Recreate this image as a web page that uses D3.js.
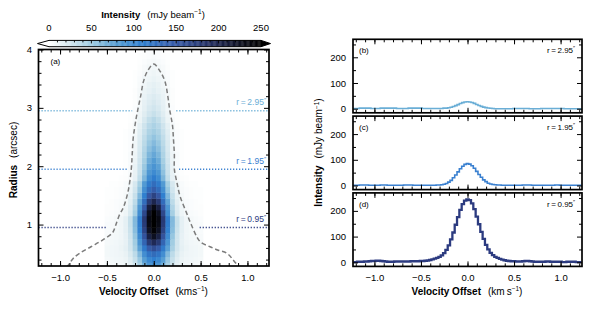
<!DOCTYPE html>
<html>
  <head>
    <meta charset="utf-8">
    <style>
      body,
      html {
        margin: 0;
        padding: 0;
        background: #fff;
        overflow: hidden;
      }
      svg {
        display: block;
      }
      text {
        font-family: "Liberation Sans", Arial, Helvetica, sans-serif;
      }
    </style>
  </head>
  <body>
    <script src="https://cdn.jsdelivr.net/npm/d3@7"></script>
    <script>
      const width = 592;
      const height = 309;

      // ---- data ----
      const velocityDomain = [-1.23, 1.23];
      const radiusDomain = [0.29, 4.0];
      const intensityDomain = [-16, 270];

      const colorbarTicks = [0, 50, 100, 150, 200, 250];
      const radiusTicks = [1, 2, 3, 4];
      const velocityTicks = [-1.0, -0.5, 0.0, 0.5, 1.0];
      const intensityTicks = [0, 100, 200];

      const cmapValues = [0, 10, 25, 50, 80, 110, 150, 190, 230, 250];
      const cmapColors = ["#ffffff", "#eef5f7", "#d3e6ee", "#a0cce2", "#549cd3",
        "#2f7fcf", "#3558a5", "#222d5f", "#0a0c18", "#000000"];

      // heatmap: rows = radius (arcsec), columns = velocity offset (km/s)
      const gridVelocities = [-0.5, -0.45, -0.4, -0.35, -0.3, -0.25, -0.2, -0.15, -0.1, -0.05, 0,
        0.05, 0.1, 0.15, 0.2, 0.25, 0.3, 0.35, 0.4, 0.45, 0.5];
      const gridRadii = [0.3, 0.4, 0.5, 0.6, 0.7, 0.8, 0.9, 1.0, 1.1, 1.2, 1.3, 1.4, 1.5, 1.6,
        1.7, 1.8, 1.9, 2.0, 2.1, 2.2, 2.3, 2.4, 2.5, 2.6, 2.7, 2.8, 2.9, 3.0, 3.1, 3.2, 3.3,
        3.4, 3.5, 3.6, 3.7, 3.8, 3.9, 4.0];
      const gridIntensity = [
        [5, 6, 7, 8, 10, 15, 27, 46, 68, 87, 95, 87, 68, 46, 27, 15, 10, 8, 7, 6, 5],
        [6, 7, 8, 9, 11, 18, 31, 53, 79, 101, 110, 101, 79, 53, 31, 18, 11, 9, 8, 7, 6],
        [7, 8, 9, 10, 13, 21, 36, 62, 94, 120, 130, 120, 94, 62, 36, 21, 13, 10, 9, 8, 7],
        [7, 8, 9, 11, 15, 25, 45, 77, 115, 147, 160, 147, 115, 77, 45, 25, 15, 11, 9, 8, 7],
        [6, 7, 8, 10, 14, 26, 49, 88, 137, 178, 195, 178, 137, 88, 49, 26, 14, 10, 8, 7, 6],
        [5, 6, 7, 9, 14, 27, 54, 99, 155, 205, 225, 205, 155, 99, 54, 27, 14, 9, 7, 6, 5],
        [4, 5, 7, 9, 15, 29, 59, 108, 169, 223, 245, 223, 169, 108, 59, 29, 15, 9, 7, 5, 4],
        [4, 5, 6, 9, 15, 31, 61, 112, 176, 232, 255, 232, 176, 112, 61, 31, 15, 9, 6, 5, 4],
        [3, 4, 6, 9, 15, 31, 62, 114, 178, 235, 258, 235, 178, 114, 62, 31, 15, 9, 6, 4, 3],
        [2, 3, 4, 6, 10, 21, 47, 95, 165, 225, 250, 225, 165, 95, 47, 21, 10, 6, 4, 3, 2],
        [2, 2, 3, 5, 9, 19, 42, 86, 148, 207, 232, 207, 148, 86, 42, 19, 9, 5, 3, 2, 2],
        [1, 2, 3, 4, 7, 16, 36, 74, 128, 178, 200, 178, 128, 74, 36, 16, 7, 4, 3, 2, 1],
        [1, 1, 2, 3, 6, 14, 31, 63, 109, 151, 170, 151, 109, 63, 31, 14, 6, 3, 2, 1, 1],
        [1, 1, 2, 3, 5, 12, 26, 54, 93, 129, 145, 129, 93, 54, 26, 12, 5, 3, 2, 1, 1],
        [0, 1, 1, 2, 4, 10, 23, 47, 82, 114, 128, 114, 82, 47, 23, 10, 4, 2, 1, 1, 0],
        [0, 0, 0, 1, 2, 5, 14, 34, 64, 97, 112, 97, 64, 34, 14, 5, 2, 1, 0, 0, 0],
        [0, 0, 0, 0, 1, 4, 13, 30, 57, 85, 98, 85, 57, 30, 13, 4, 1, 0, 0, 0, 0],
        [0, 0, 0, 0, 1, 4, 12, 28, 52, 77, 88, 77, 52, 28, 12, 4, 1, 0, 0, 0, 0],
        [0, 0, 0, 0, 1, 4, 11, 26, 47, 70, 80, 70, 47, 26, 11, 4, 1, 0, 0, 0, 0],
        [0, 0, 0, 0, 1, 4, 10, 24, 43, 64, 73, 64, 43, 24, 10, 4, 1, 0, 0, 0, 0],
        [0, 0, 0, 0, 1, 3, 9, 22, 40, 58, 67, 58, 40, 22, 9, 3, 1, 0, 0, 0, 0],
        [0, 0, 0, 0, 1, 3, 9, 21, 37, 53, 61, 53, 37, 21, 9, 3, 1, 0, 0, 0, 0],
        [0, 0, 0, 0, 1, 3, 8, 19, 34, 48, 55, 48, 34, 19, 8, 3, 1, 0, 0, 0, 0],
        [0, 0, 0, 0, 1, 3, 7, 17, 30, 43, 49, 43, 30, 17, 7, 3, 1, 0, 0, 0, 0],
        [0, 0, 0, 0, 0, 2, 6, 15, 27, 38, 44, 38, 27, 15, 6, 2, 0, 0, 0, 0, 0],
        [0, 0, 0, 0, 0, 1, 4, 11, 22, 33, 39, 33, 22, 11, 4, 1, 0, 0, 0, 0, 0],
        [0, 0, 0, 0, 0, 1, 3, 10, 18, 26, 31, 26, 18, 10, 3, 1, 0, 0, 0, 0, 0],
        [0, 0, 0, 0, 0, 0, 3, 8, 15, 22, 26, 22, 15, 8, 3, 0, 0, 0, 0, 0, 0],
        [0, 0, 0, 0, 0, 0, 2, 7, 14, 19, 23, 19, 14, 7, 2, 0, 0, 0, 0, 0, 0],
        [0, 0, 0, 0, 0, 0, 2, 6, 12, 17, 20, 17, 12, 6, 2, 0, 0, 0, 0, 0, 0],
        [0, 0, 0, 0, 0, 0, 2, 6, 11, 14, 17, 14, 11, 6, 2, 0, 0, 0, 0, 0, 0],
        [0, 0, 0, 0, 0, 0, 1, 5, 9, 13, 15, 13, 9, 5, 1, 0, 0, 0, 0, 0, 0],
        [0, 0, 0, 0, 0, 0, 1, 4, 8, 10, 12, 10, 8, 4, 1, 0, 0, 0, 0, 0, 0],
        [0, 0, 0, 0, 0, 0, 1, 3, 6, 8, 10, 8, 6, 3, 1, 0, 0, 0, 0, 0, 0],
        [0, 0, 0, 0, 0, 0, 0, 2, 5, 7, 8, 7, 5, 2, 0, 0, 0, 0, 0, 0, 0],
        [0, 0, 0, 0, 0, 0, 0, 1, 3, 5, 6, 5, 3, 1, 0, 0, 0, 0, 0, 0, 0],
        [0, 0, 0, 0, 0, 0, 0, 1, 2, 3, 4, 3, 2, 1, 0, 0, 0, 0, 0, 0, 0],
        [0, 0, 0, 0, 0, 0, 0, 0, 2, 3, 3, 3, 2, 0, 0, 0, 0, 0, 0, 0, 0],
      ];

      // dashed contour, [velocity, radius], left foot -> apex -> right foot
      const contourPoints = [
        [-0.93, 0.27], [-0.9, 0.33], [-0.86, 0.42], [-0.79, 0.51], [-0.67, 0.62],
        [-0.54, 0.74], [-0.44, 0.86], [-0.41, 0.97], [-0.37, 1.15], [-0.32, 1.31],
        [-0.27, 1.6], [-0.24, 1.95], [-0.23, 2.2], [-0.22, 2.47], [-0.19, 2.8],
        [-0.17, 2.97], [-0.14, 3.2], [-0.11, 3.45], [-0.07, 3.62], [0.0, 3.75],
        [0.07, 3.62], [0.12, 3.45], [0.15, 3.2], [0.17, 2.97], [0.2, 2.7],
        [0.21, 2.47], [0.22, 2.2], [0.22, 1.95], [0.25, 1.7], [0.28, 1.49],
        [0.35, 1.2], [0.4, 1.0], [0.46, 0.79], [0.5, 0.7], [0.6, 0.62],
        [0.69, 0.56], [0.78, 0.51], [0.85, 0.39], [0.91, 0.27],
      ];

      const cutRadii = [2.95, 1.95, 0.95];
      const cutLabels = ["2.95", "1.95", "0.95"];
      const cutGapStart = [-0.23, -0.28, -0.51];
      const cutGapEnd = [0.24, 0.27, 0.49];

      const channelStart = -1.225;
      const channelWidth = 0.025;
      const spectrum295 = [
        1, 1, 1, 2, 2, 2, 2, 2, 1, 1,
        1, 1, 2, 2, 2, 2, 2, 2, 2, 1,
        1, 1, 1, 1, 2, 2, 2, 2, 2, 2,
        1, 1, 1, 1, 1, 1, 1, 1, 1, 2,
        2, 3.5, 5.5, 8.5, 12, 16, 20, 23.5, 26,
        27,
        26, 24, 20.5, 16.5, 12.5, 9, 6, 4, 2.5,
        1.5, 1, 0, 0, 0, 0, 0, 0, 0, 0,
        1, 1, 1, 1, 1, 1, 1, 0, 0, 0,
        0, 0, 1, 1, 1, 1, 1, 1, 1, 1,
        1, 1, 0, 0, 0, 0, 0, 0, 0, 0,
      ];
      const spectrum195 = [
        1, 1, 1, 2, 2, 2, 2, 1, 1, 1,
        1, 1, 2, 2, 2, 1, 1, 1, 1, 1,
        1, 1, 2, 2, 2, 2, 1, 1, 1, 1,
        1, 1, 1, 1, 1, 1, 2, 2, 3, 5,
        8, 13, 20, 30, 41, 53, 65, 75, 82,
        85,
        83, 77, 67, 55, 43, 32, 22, 15, 9,
        6, 4, 3, 2, 2, 1, 1, 1, 1, 1,
        1, 1, 1, 1, 2, 2, 2, 2, 1, 1,
        1, 1, 1, 1, 1, 1, 1, 1, 2, 2,
        1, 1, 1, 1, 1, 1, 1, 1, 1, 1,
      ];
      const spectrum095 = [
        1, 1, 2, 2, 2, 3, 3, 4, 5, 5,
        6, 6, 5, 4, 3, 2, 2, 2, 3, 3,
        3, 3, 3, 3, 3, 4, 4, 4, 4, 5,
        5, 6, 7, 9, 11, 14, 17, 21, 27, 36,
        48, 66, 89, 116, 146, 176, 204, 226, 240,
        245,
        242, 229, 207, 178, 148, 118, 91, 68, 50,
        37, 28, 21, 17, 13, 10, 8, 6, 5, 4,
        4, 3, 3, 3, 4, 5, 5, 4, 3, 2,
        2, 2, 2, 2, 3, 3, 2, 2, 2, 2,
        2, 1, 1, 2, 2, 2, 2, 1, 1, 1,
      ];
      const spectra = [spectrum295, spectrum195, spectrum095];
      const panelLetters = ["(b)", "(c)", "(d)"];

      // ---- layout / style ----
      const cutColors = ["#6aaed6", "#3a80d0", "#2c3b80"];
      const font = 9.5;
      const L = { x0: 38.5, x1: 269, y0: 49.5, y1: 266 };
      const R = { x0: 353, x1: 582 };
      const panelTops = [39.3, 116.1, 192.9];
      const panelH = 73.5;
      const MINUS = "\u2212";

      const svg = d3
        .select("body")
        .append("svg")
        .attr("width", width)
        .attr("height", height);

      const color = d3.scaleLinear().domain(cmapValues).range(cmapColors).clamp(true);
      const xL = d3.scaleLinear().domain(velocityDomain).range([L.x0, L.x1]);
      const yL = d3.scaleLinear().domain(radiusDomain).range([L.y1, L.y0]);
      const xR = d3.scaleLinear().domain(velocityDomain).range([R.x0, R.x1]);

      const fmtVel = (d) => (d < 0 ? MINUS : "") + Math.abs(d).toFixed(1);

      function styleAxis(g) {
        g.select(".domain").remove();
        g.selectAll("line").attr("stroke", "#000").attr("stroke-width", 1);
        g.attr("font-family", null).attr("font-size", font);
        g.selectAll("text").attr("fill", "#000");
      }

      // inward ticks on all four sides of a frame
      function frameAxes(x, y, x0, x1, y0, y1, opts) {
        const g = svg.append("g");
        const fmtNone = () => "";
        g.append("g").attr("transform", `translate(0,${y1})`)
          .call(d3.axisBottom(x).tickValues(opts.xMinor).tickSize(-3).tickFormat(fmtNone)).call(styleAxis);
        g.append("g").attr("transform", `translate(0,${y1})`)
          .call(d3.axisBottom(x).tickValues(velocityTicks).tickSize(-5).tickPadding(8)
            .tickFormat(opts.xLabels ? fmtVel : fmtNone)).call(styleAxis);
        g.append("g").attr("transform", `translate(0,${y0})`)
          .call(d3.axisTop(x).tickValues(opts.xMinor).tickSize(-3).tickFormat(fmtNone)).call(styleAxis);
        g.append("g").attr("transform", `translate(0,${y0})`)
          .call(d3.axisTop(x).tickValues(velocityTicks).tickSize(-5).tickFormat(fmtNone)).call(styleAxis);
        g.append("g").attr("transform", `translate(${x0},0)`)
          .call(d3.axisLeft(y).tickValues(opts.yMinor).tickSize(-3).tickFormat(fmtNone)).call(styleAxis);
        g.append("g").attr("transform", `translate(${x0},0)`)
          .call(d3.axisLeft(y).tickValues(opts.yMajor).tickSize(-5).tickPadding(opts.yPad)
            .tickFormat((d) => String(d))).call(styleAxis);
        g.append("g").attr("transform", `translate(${x1},0)`)
          .call(d3.axisRight(y).tickValues(opts.yMinor).tickSize(-3).tickFormat(fmtNone)).call(styleAxis);
        g.append("g").attr("transform", `translate(${x1},0)`)
          .call(d3.axisRight(y).tickValues(opts.yMajor).tickSize(-5).tickFormat(fmtNone)).call(styleAxis);
        svg.append("rect")
          .attr("x", x0).attr("y", y0).attr("width", x1 - x0).attr("height", y1 - y0)
          .attr("fill", "none").attr("stroke", "#000").attr("stroke-width", 1.7);
      }

      const minorV = d3.range(-12, 13).map((d) => d / 10);

      // ---- panel (a): heatmap ----
      svg.append("clipPath").attr("id", "clipA").append("rect")
        .attr("x", L.x0).attr("y", L.y0).attr("width", L.x1 - L.x0).attr("height", L.y1 - L.y0);

      const dv = gridVelocities[1] - gridVelocities[0];
      const dr = gridRadii[1] - gridRadii[0];
      const cells = [];
      gridRadii.forEach((r, i) =>
        gridVelocities.forEach((v, j) => cells.push({ v: v, r: r, val: gridIntensity[i][j] }))
      );

      const heat = svg.append("g").attr("clip-path", "url(#clipA)");
      heat.selectAll("rect")
        .data(cells)
        .join("rect")
        .attr("x", (d) => xL(d.v - dv / 2))
        .attr("y", (d) => yL(d.r + dr / 2))
        .attr("width", xL(dv) - xL(0) + 0.4)
        .attr("height", yL(0) - yL(dr) + 0.4)
        .attr("fill", (d) => color(d.val));

      heat.append("path")
        .datum(contourPoints)
        .attr("d", d3.line().x((d) => xL(d[0])).y((d) => yL(d[1])).curve(d3.curveCatmullRom))
        .attr("fill", "none")
        .attr("stroke", "#7c7c7c")
        .attr("stroke-width", 1.5)
        .attr("stroke-dasharray", "4.5,2.8");

      cutRadii.forEach((r, i) => {
        const segs = [
          [velocityDomain[0], cutGapStart[i]],
          [cutGapEnd[i], velocityDomain[1]],
        ];
        heat.selectAll(null)
          .data(segs)
          .join("line")
          .attr("x1", (d) => xL(d[0]))
          .attr("x2", (d) => xL(d[1]))
          .attr("y1", yL(r))
          .attr("y2", yL(r))
          .attr("stroke", cutColors[i])
          .attr("stroke-width", 1.5)
          .attr("stroke-dasharray", "1.2,1.8");

        const t = svg.append("text")
          .attr("x", L.x1 - 3)
          .attr("y", yL(r) - 5.5)
          .attr("text-anchor", "end")
          .attr("font-size", 8.5)
          .attr("fill", cutColors[i]);
        t.append("tspan").text("r\u2009=\u2009" + cutLabels[i]);
        t.append("tspan").attr("dy", -3).attr("font-size", 6).text("\u2033");
      });

      frameAxes(xL, yL, L.x0, L.x1, L.y0, L.y1, {
        xMinor: minorV,
        xLabels: true,
        yMajor: radiusTicks,
        yMinor: d3.range(2, 20).map((d) => d / 5).filter((d) => d % 1 !== 0),
        yPad: 6.5,
      });

      svg.append("text").attr("x", 50.5).attr("y", 64).attr("font-size", 8).text("(a)");

      // ---- colorbar ----
      const cbX = d3.scaleLinear().domain([0, 250]).range([49, 261]);
      const cbY0 = 40.4;
      const cbH = 6.3;
      const cbMid = cbY0 + cbH / 2;
      svg.selectAll(".cb")
        .data(d3.range(0, 250, 1))
        .join("rect")
        .attr("class", "cb")
        .attr("x", (d) => cbX(d))
        .attr("width", cbX(1) - cbX(0) + 0.3)
        .attr("y", cbY0)
        .attr("height", cbH)
        .attr("fill", (d) => color(d + 0.5));
      svg.append("path")
        .attr("d", `M${cbX(0)},${cbY0} L37.5,${cbMid} L${cbX(0)},${cbY0 + cbH} Z`)
        .attr("fill", "#fff");
      svg.append("path")
        .attr("d", `M${cbX(250)},${cbY0} L270.5,${cbMid} L${cbX(250)},${cbY0 + cbH} Z`)
        .attr("fill", "#000");
      svg.selectAll(".cbt")
        .data(d3.range(10, 250, 10))
        .join("line")
        .attr("class", "cbt")
        .attr("x1", (d) => cbX(d))
        .attr("x2", (d) => cbX(d))
        .attr("y1", cbY0)
        .attr("y2", (d) => cbY0 + (d % 50 === 0 ? 3 : 2))
        .attr("stroke", "#000")
        .attr("stroke-width", 0.9);
      svg.append("path")
        .attr("d", `M${cbX(0)},${cbY0} L${cbX(250)},${cbY0} L270.5,${cbMid} L${cbX(250)},${cbY0 + cbH} L${cbX(0)},${cbY0 + cbH} L37.5,${cbMid} Z`)
        .attr("fill", "none")
        .attr("stroke", "#000")
        .attr("stroke-width", 1);
      svg.selectAll(".cbl")
        .data(colorbarTicks)
        .join("text")
        .attr("class", "cbl")
        .attr("x", (d) => cbX(d))
        .attr("y", 31)
        .attr("text-anchor", "middle")
        .attr("font-size", font)
        .text((d) => d);

      const cbTitle = svg.append("text").attr("x", 153).attr("y", 17.5)
        .attr("text-anchor", "middle").attr("font-size", 9.5);
      cbTitle.append("tspan").attr("font-weight", "bold").text("Intensity");
      cbTitle.append("tspan").attr("dx", 7).text("(mJy beam");
      cbTitle.append("tspan").attr("dy", -3.5).attr("font-size", 6.5).text(MINUS + "1");
      cbTitle.append("tspan").attr("dy", 3.5).text(")");

      // ---- panels (b)-(d): spectra ----
      spectra.forEach((spec, i) => {
        const top = panelTops[i];
        const bottom = top + panelH;
        const y = d3.scaleLinear().domain(intensityDomain).range([bottom, top]);
        const id = "clipR" + i;
        svg.append("clipPath").attr("id", id).append("rect")
          .attr("x", R.x0).attr("y", top).attr("width", R.x1 - R.x0).attr("height", panelH);

        svg.append("g").attr("clip-path", `url(#${id})`)
          .append("path")
          .datum(spec)
          .attr("d", d3.line()
            .x((d, k) => xR(channelStart + k * channelWidth))
            .y((d) => y(d))
            .curve(d3.curveStep))
          .attr("fill", "none")
          .attr("stroke", cutColors[i])
          .attr("stroke-width", i === 2 ? 2.3 : 1.6);

        frameAxes(xR, y, R.x0, R.x1, top, bottom, {
          xMinor: minorV,
          xLabels: i === 2,
          yMajor: intensityTicks,
          yMinor: [50, 150, 250],
          yPad: 7,
        });

        svg.append("text").attr("x", 359).attr("y", top + 14)
          .attr("font-size", 8).text(panelLetters[i]);
        const t = svg.append("text").attr("x", 575).attr("y", top + 14)
          .attr("text-anchor", "end").attr("font-size", 8);
        t.append("tspan").text("r\u2009=\u2009" + cutLabels[i]);
        t.append("tspan").attr("dy", -3).attr("font-size", 5.5).text("\u2033");
      });

      // ---- axis titles ----
      function velocityTitle(cx, unit) {
        const t = svg.append("text").attr("x", cx).attr("y", 294.5)
          .attr("text-anchor", "middle").attr("font-size", 10);
        t.append("tspan").attr("font-weight", "bold").text("Velocity Offset");
        t.append("tspan").attr("dx", 7).text("(" + unit);
        t.append("tspan").attr("dy", -3.5).attr("font-size", 6.5).text(MINUS + "1");
        t.append("tspan").attr("dy", 3.5).text(")");
      }
      velocityTitle(153.5, "kms");
      velocityTitle(467, "km\u2009s");

      const yTitleA = svg.append("text")
        .attr("transform", "translate(17,160) rotate(-90)")
        .attr("text-anchor", "middle").attr("font-size", 10);
      yTitleA.append("tspan").attr("font-weight", "bold").text("Radius");
      yTitleA.append("tspan").attr("dx", 7).text("(arcsec)");

      const yTitleR = svg.append("text")
        .attr("transform", "translate(322,152.5) rotate(-90)")
        .attr("text-anchor", "middle").attr("font-size", 10);
      yTitleR.append("tspan").attr("font-weight", "bold").text("Intensity");
      yTitleR.append("tspan").attr("dx", 7).text("(mJy beam");
      yTitleR.append("tspan").attr("dy", -3.5).attr("font-size", 6.5).text(MINUS + "1");
      yTitleR.append("tspan").attr("dy", 3.5).text(")");
    </script>
  </body>
</html>
